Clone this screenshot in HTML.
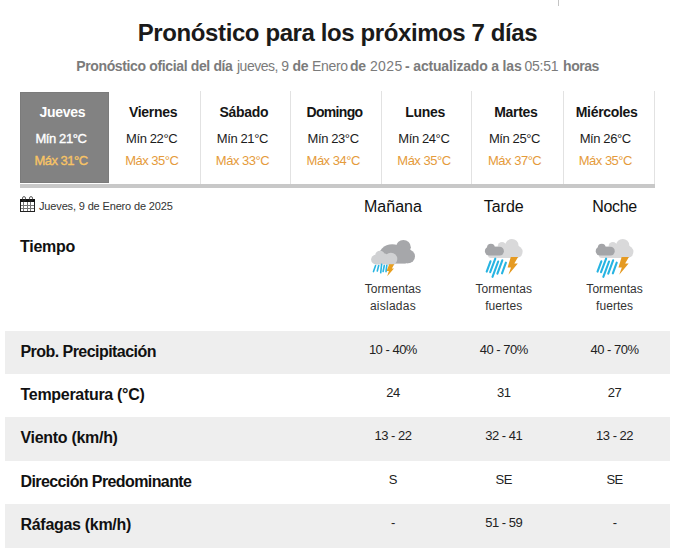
<!DOCTYPE html>
<html>
<head>
<meta charset="utf-8">
<style>
*{margin:0;padding:0;box-sizing:border-box}
html,body{width:682px;height:556px;background:#fff;overflow:hidden}
body{font-family:"Liberation Sans",sans-serif;color:#222;position:relative}
.abs{position:absolute;white-space:nowrap}
#vline{position:absolute;left:558px;top:0;width:1px;height:6px;background:#c4c4c4}
#title{left:20px;width:635px;top:17.5px;text-align:center;font-size:24px;font-weight:bold;color:#1a1a1a;line-height:30px;letter-spacing:-0.4px}
#sub{position:absolute;left:0;top:57px;width:682px;height:18px;font-size:14px;color:#7b7b7b;line-height:18px}
#sub .sg{position:absolute;top:0;white-space:nowrap;letter-spacing:-0.3px}
#sub .b{font-weight:bold}
#tabs{position:absolute;left:20px;top:91px;width:635px;height:93px}
#tabs .t{position:absolute;top:0;height:93px;width:90.714px;text-align:center}
#tabs .dv{position:absolute;top:0;width:1px;height:93px;background:#e2e2e2}

#tabs .t.act .bg{position:absolute;left:0;top:1px;width:89px;height:91px;background:#828282;border:1px solid #7b7b7b}
#tabs .d{position:absolute;left:0;right:6px;top:12px;font-size:14px;font-weight:bold;color:#151515;line-height:18px;letter-spacing:-0.3px}
#tabs .mn{position:absolute;left:0;right:8.8px;top:39.5px;font-size:13px;color:#1c1c1c;line-height:16px;letter-spacing:-0.4px}
#tabs .mx{position:absolute;left:0;right:8.6px;top:62px;font-size:13px;color:#e59b3b;line-height:16px;letter-spacing:-0.5px}
#tabs .act .d,#tabs .act .mn{color:#fff}
#tabs .act .mx{color:#f8c465;-webkit-text-stroke:0.35px #f8c465}
#tabs .act .mn{-webkit-text-stroke:0.35px #fff}
#bar{position:absolute;left:20px;top:184px;width:635px;height:4px;background:#c8c8c8}

#cal{position:absolute;left:0;top:0}
#date{left:39px;top:199px;font-size:11px;color:#333;line-height:14px;letter-spacing:-0.15px}
.colh{position:absolute;top:197px;width:110.83px;text-align:center;font-size:16px;color:#111;line-height:20px}
#tiempo{left:20px;top:236.5px;font-size:16px;font-weight:bold;color:#111;line-height:20px;letter-spacing:-0.25px}
.desc{position:absolute;top:281px;width:110.83px;text-align:center;font-size:12px;color:#333;line-height:17px;letter-spacing:0.05px}
.row{position:absolute;left:5px;width:665px;height:43.4px}
.row.g{background:#eeeeee}
.row .lb{position:absolute;left:15.5px;top:11px;font-size:16px;font-weight:bold;color:#111;line-height:20px;white-space:nowrap;letter-spacing:-0.3px}
.row .v{position:absolute;top:11.3px;width:110.83px;text-align:center;font-size:13px;color:#222;line-height:16px;letter-spacing:-0.5px}
</style>
</head>
<body>
<div id="vline"></div>
<div id="title" class="abs">Pronóstico para los próximos 7 días</div>
<div id="sub"><span id="s0" class="sg b" style="left:76.2px;letter-spacing:-0.36px">Pronóstico oficial del día</span><span id="s1" class="sg" style="left:237px;letter-spacing:-0.5px">jueves, 9</span><span id="s2" class="sg b" style="left:292.5px">de</span><span id="s3" class="sg" style="left:311.9px">Enero</span><span id="s4" class="sg b" style="left:350.1px">de</span><span id="s5" class="sg" style="left:369.9px;letter-spacing:0.4px">2025</span><span id="s6" class="sg b" style="left:405.1px;letter-spacing:-0.18px">- actualizado a las</span><span id="s7" class="sg" style="left:524.6px">05:51</span><span id="s8" class="sg b" style="left:563.1px;letter-spacing:-0.5px">horas</span></div>

<div id="tabs">
 <div class="dv" style="left:180px"></div><div class="dv" style="left:270px"></div><div class="dv" style="left:361px"></div><div class="dv" style="left:451px"></div><div class="dv" style="left:543px"></div><div class="dv" style="left:634px"></div>
 <div class="t act" style="left:0"><div class="bg"></div><div class="d">Jueves</div><div class="mn">Mín 21°C</div><div class="mx">Máx 31°C</div></div>
 <div class="t" style="left:90.714px"><div class="d">Viernes</div><div class="mn">Mín 22°C</div><div class="mx">Máx 35°C</div></div>
 <div class="t" style="left:181.43px"><div class="d">Sábado</div><div class="mn">Mín 21°C</div><div class="mx">Máx 33°C</div></div>
 <div class="t" style="left:272.14px"><div class="d" style="letter-spacing:-0.7px">Domingo</div><div class="mn">Mín 23°C</div><div class="mx">Máx 34°C</div></div>
 <div class="t" style="left:362.86px"><div class="d">Lunes</div><div class="mn">Mín 24°C</div><div class="mx">Máx 35°C</div></div>
 <div class="t" style="left:453.57px"><div class="d">Martes</div><div class="mn">Mín 25°C</div><div class="mx">Máx 37°C</div></div>
 <div class="t" style="left:544.29px"><div class="d">Miércoles</div><div class="mn">Mín 26°C</div><div class="mx">Máx 35°C</div></div>
</div>
<div id="bar"></div>

<svg id="cal" width="682" height="556" viewBox="0 0 682 556" shape-rendering="crispEdges">
  <rect x="20" y="199" width="15" height="3" fill="#111"/>
  <rect x="20" y="202" width="1" height="10" fill="#222"/>
  <rect x="34" y="202" width="1" height="10" fill="#222"/>
  <rect x="20" y="211" width="15" height="1" fill="#222"/>
  <g fill="#777">
  <rect x="23" y="202" width="1" height="9"/>
  <rect x="27" y="202" width="1" height="9"/>
  <rect x="30" y="202" width="1" height="9"/>
  <rect x="21" y="205" width="13" height="1"/>
  <rect x="21" y="208" width="13" height="1"/>
  </g>
</svg>
<svg style="position:absolute;left:0;top:0" width="682" height="556" viewBox="0 0 682 556">
  <rect x="22.5" y="196.6" width="3" height="4.6" rx="1.5" fill="none" stroke="#333" stroke-width="0.8"/>
  <rect x="29.5" y="196.6" width="3" height="4.6" rx="1.5" fill="none" stroke="#333" stroke-width="0.8"/>
</svg>
<div id="date" class="abs">Jueves, 9 de Enero de 2025</div>
<div class="colh" style="left:337.5px">Mañana</div>
<div class="colh" style="left:448.33px">Tarde</div>
<div class="colh" style="left:559.17px;letter-spacing:-0.3px">Noche</div>
<div id="tiempo" class="abs">Tiempo</div>
<div class="desc" style="left:337.5px">Tormentas<br><span style="letter-spacing:0.25px">aisladas</span></div>
<div class="desc" style="left:448.33px">Tormentas<br>fuertes</div>
<div class="desc" style="left:559.17px">Tormentas<br>fuertes</div>
<div class="row g" style="top:331px;height:43px"><div class="lb" style="letter-spacing:-0.55px">Prob. Precipitación</div><div class="v" style="left:332.50px">10 - 40%</div><div class="v" style="left:443.33px">40 - 70%</div><div class="v" style="left:554.17px">40 - 70%</div></div>
<div class="row" style="top:374px;height:43px"><div class="lb">Temperatura (°C)</div><div class="v" style="left:332.50px">24</div><div class="v" style="left:443.33px">31</div><div class="v" style="left:554.17px">27</div></div>
<div class="row g" style="top:417px;height:44px"><div class="lb">Viento (km/h)</div><div class="v" style="left:332.50px">13 - 22</div><div class="v" style="left:443.33px">32 - 41</div><div class="v" style="left:554.17px">13 - 22</div></div>
<div class="row" style="top:461px;height:43px"><div class="lb" style="letter-spacing:-0.6px">Dirección Predominante</div><div class="v" style="left:332.50px">S</div><div class="v" style="left:443.33px">SE</div><div class="v" style="left:554.17px">SE</div></div>
<div class="row g" style="top:504px;height:44px"><div class="lb">Ráfagas (km/h)</div><div class="v" style="left:332.50px">-</div><div class="v" style="left:443.33px">51 - 59</div><div class="v" style="left:554.17px">-</div></div>

<svg id="icons" style="position:absolute;left:0;top:0" width="682" height="556" viewBox="0 0 682 556">
 <g id="ic1">
  <clipPath id="cl1"><rect x="360" y="230" width="60" height="33.5"/></clipPath>
  <g fill="#a6a7aa" clip-path="url(#cl1)">
   <circle cx="403.4" cy="247.3" r="7.4"/>
   <circle cx="408" cy="256.4" r="7"/>
   <ellipse cx="392.2" cy="258.5" rx="14.5" ry="14.3"/>
   <rect x="392" y="248" width="16" height="15.4"/>
  </g>
  <g fill="#d0d1d3">
   <circle cx="380" cy="255.5" r="4.8"/>
   <circle cx="390.9" cy="259.1" r="6.4"/>
   <circle cx="384.6" cy="256" r="2.6"/>
   <circle cx="376" cy="259.6" r="4.9"/>
   <rect x="376" y="256" width="15" height="8.5"/>
  </g>
  <g stroke="#29b5e2" stroke-width="1.6" stroke-linecap="round">
   <line x1="375.6" y1="265.5" x2="373.5" y2="271.6"/>
   <line x1="378.7" y1="265.5" x2="377.3" y2="271"/>
   <line x1="381.6" y1="264.3" x2="380.7" y2="272.8"/>
   <line x1="384.3" y1="265.5" x2="383.1" y2="271.5"/>
   <line x1="386.8" y1="265.3" x2="386" y2="271.7"/>
  </g>
  <polygon fill="#e89f20" points="389.2,264.3 394.2,264.3 391.9,268.4 394,268.6 387.2,276.2 388.9,271 386.6,270.9"/>
 </g>
 <g id="ic2">
  <g fill="#d9d9da">
   <circle cx="511.9" cy="245.5" r="6.6"/>
   <circle cx="516.4" cy="251.8" r="6.2"/>
   <circle cx="502" cy="246.4" r="4.3"/>
   <circle cx="506.5" cy="247" r="3"/>
   <rect x="488" y="246.4" width="28.4" height="11.6" rx="3"/>
  </g>
  <g fill="#a4a5a8">
   <circle cx="490.9" cy="247.6" r="3.9"/>
   <rect x="484.9" y="246.8" width="19" height="8.6" rx="4.2"/>
  </g>
  <g stroke="#27b4e2" stroke-width="2.1" stroke-linecap="round">
   <line x1="490.5" y1="261.3" x2="486.7" y2="271.6"/>
   <line x1="495.3" y1="258.7" x2="490.2" y2="272.2"/>
   <line x1="498.2" y1="261.5" x2="492.5" y2="276.8"/>
   <line x1="502.3" y1="260.3" x2="497.4" y2="273.7"/>
   <line x1="505.9" y1="262.7" x2="502" y2="273.3"/>
  </g>
  <polygon fill="#e59a22" points="510.8,256.9 518.1,256.9 514.3,263.6 517.8,263.6 508.4,274.7 511,267.4 507.6,267.4"/>
 </g>
 <use href="#ic2" x="110.83" y="0"/>
</svg>

</body>
</html>
